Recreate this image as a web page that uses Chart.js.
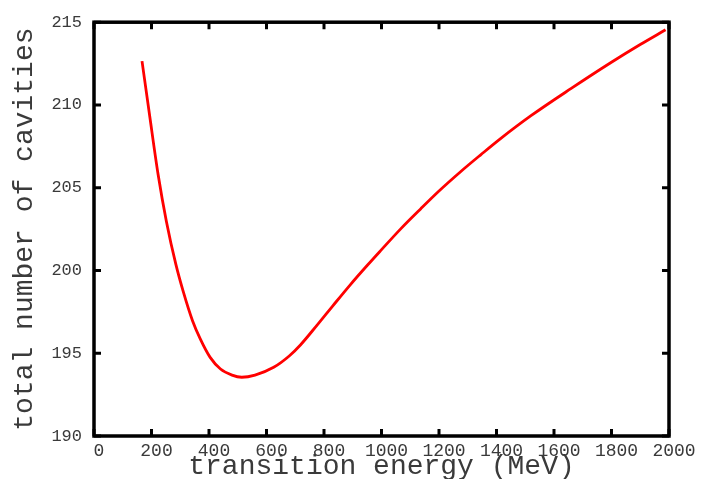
<!DOCTYPE html>
<html lang="en">
<head>
    <meta charset="UTF-8">
    <title>Total number of cavities vs transition energy</title>
    <script src="https://cdn.jsdelivr.net/npm/chart.js"></script>
    <style>
        body {
            margin: 0;
            background: #fff;
        }
        #wrap {
            width: 712px;
            height: 479px;
        }
    </style>
</head>
<body>
    <div id="wrap">
        <canvas id="cavChart" width="712" height="479"></canvas>
    </div>

    <script>
        // values
        const energy = [167, 194, 223, 252, 285, 310, 343, 370, 404, 440, 480, 514, 560, 625, 680, 718, 776, 830, 892, 950, 997, 1066, 1136, 1200, 1276, 1346, 1413, 1520, 1660, 1797, 1900, 1988];
        const cavities = [212.65, 209.3, 205.8, 202.95, 200.35, 198.75, 196.95, 195.85, 194.75, 194.05, 193.68, 193.55, 193.68, 194.15, 194.85, 195.5, 196.7, 197.85, 199.15, 200.3, 201.2, 202.5, 203.72, 204.8, 205.98, 207.0, 207.95, 209.35, 211.0, 212.55, 213.65, 214.54];

        const xTicks = [0, 200, 400, 600, 800, 1000, 1200, 1400, 1600, 1800, 2000];
        const yTicks = [190, 195, 200, 205, 210, 215];

        const xTitle = 'transition energy (MeV)';
        const yTitle = 'total number of cavities';

        const points = energy.map((e, i) => ({ x: e, y: cavities[i] }));

        const monoFont = "'Liberation Mono', 'DejaVu Sans Mono', monospace";
        const textColor = '#3a3a3a';

        // gnuplot style frame with inward ticks on every side
        const framePlugin = {
            id: 'frame',
            afterDatasetsDraw(chart) {
                const { ctx, chartArea: a, scales } = chart;
                const len = 7;
                ctx.save();
                ctx.strokeStyle = '#000';
                ctx.lineWidth = 3;
                ctx.lineCap = 'butt';
                ctx.beginPath();
                xTicks.forEach(v => {
                    const px = scales.x.getPixelForValue(v);
                    ctx.moveTo(px, a.bottom);
                    ctx.lineTo(px, a.bottom - len);
                    ctx.moveTo(px, a.top);
                    ctx.lineTo(px, a.top + len);
                });
                yTicks.forEach(v => {
                    const py = scales.y.getPixelForValue(v);
                    ctx.moveTo(a.left, py);
                    ctx.lineTo(a.left + len, py);
                    ctx.moveTo(a.right, py);
                    ctx.lineTo(a.right - len, py);
                });
                ctx.stroke();
                ctx.lineWidth = 3.5;
                ctx.strokeRect(a.left, a.top, a.right - a.left, a.bottom - a.top);
                ctx.restore();
            }
        };

        new Chart(document.getElementById('cavChart'), {
            type: 'line',
            data: {
                datasets: [{
                    data: points,
                    borderColor: '#ff0000',
                    borderWidth: 2.8,
                    pointRadius: 0,
                    fill: false,
                    cubicInterpolationMode: 'monotone'
                }]
            },
            options: {
                responsive: false,
                animation: false,
                layout: {
                    padding: { top: 19, right: 43, left: 0, bottom: 0 }
                },
                plugins: {
                    legend: { display: false },
                    tooltip: { enabled: false }
                },
                scales: {
                    x: {
                        type: 'linear',
                        min: 0,
                        max: 2000,
                        afterFit(scale) { scale.height = 43; },
                        afterBuildTicks(scale) { scale.ticks = xTicks.map(v => ({ value: v })); },
                        grid: { display: false, drawTicks: false },
                        border: { display: false },
                        ticks: {
                            padding: 4,
                            labelOffset: 5,
                            maxRotation: 0,
                            autoSkip: false,
                            color: textColor,
                            font: { family: monoFont, size: 18 },
                            callback: v => String(v)
                        },
                        title: {
                            display: true,
                            text: xTitle,
                            color: textColor,
                            padding: { top: 0, bottom: 0 },
                            font: { family: monoFont, size: 28, lineHeight: 0.9 }
                        }
                    },
                    y: {
                        min: 190,
                        max: 215,
                        afterFit(scale) { scale.width = 94; },
                        afterBuildTicks(scale) { scale.ticks = yTicks.map(v => ({ value: v })); },
                        grid: { display: false, drawTicks: false },
                        border: { display: false },
                        ticks: {
                            padding: 12,
                            autoSkip: false,
                            color: textColor,
                            font: { family: monoFont, size: 17 },
                            callback: v => String(v)
                        },
                        title: {
                            display: true,
                            text: yTitle,
                            color: textColor,
                            padding: { top: 12, bottom: 0 },
                            font: { family: monoFont, size: 28, lineHeight: 0.9 }
                        }
                    }
                }
            },
            plugins: [framePlugin]
        });
    </script>
</body>
</html>
